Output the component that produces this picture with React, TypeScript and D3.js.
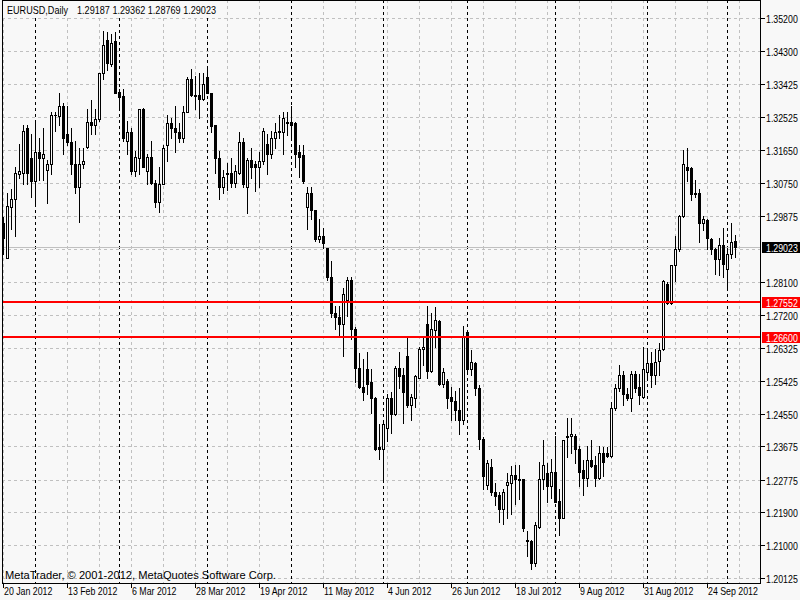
import React from 'react';
import * as d3 from 'd3';

// ---- Data (EURUSD daily, 20 Jan 2012 .. 3 Oct 2012) ----
const openPrices = [
  1.2967, 1.2875, 1.3010, 1.3034, 1.3101, 1.3104, 1.3225, 1.3142, 1.3080, 1.3158,
  1.3142, 1.3112, 1.3128, 1.3258, 1.3255, 1.3284, 1.3209, 1.3185, 1.3128, 1.3064,
  1.3128, 1.3174, 1.3241, 1.3231, 1.3247, 1.3371, 1.3462, 1.3395, 1.3457, 1.3322,
  1.3309, 1.3188, 1.3214, 1.3107, 1.3144, 1.3274, 1.3107, 1.3147, 1.3077, 1.3026,
  1.3074, 1.3179, 1.3236, 1.3223, 1.3212, 1.3196, 1.3268, 1.3357, 1.3314, 1.3314,
  1.3301, 1.3360, 1.3319, 1.3231, 1.3142, 1.3064, 1.3099, 1.3104, 1.3077, 1.3104,
  1.3185, 1.3064, 1.3139, 1.3126, 1.3118, 1.3134, 1.3182, 1.3155, 1.3196, 1.3217,
  1.3214, 1.3236, 1.3239, 1.3236, 1.3158, 1.3150, 1.3010, 1.3048, 1.3004, 1.2926,
  1.2934, 1.2900, 1.2822, 1.2725, 1.2714, 1.2695, 1.2762, 1.2816, 1.2682, 1.2579,
  1.2528, 1.2574, 1.2539, 1.2498, 1.2364, 1.2361, 1.2415, 1.2496, 1.2453, 1.2579,
  1.2558, 1.2611, 1.2477, 1.2498, 1.2552, 1.2628, 1.2695, 1.2571, 1.2679, 1.2703,
  1.2536, 1.2544, 1.2501, 1.2490, 1.2466, 1.2439, 1.2676, 1.2574, 1.2590, 1.2523,
  1.2388, 1.2264, 1.2310, 1.2245, 1.2235, 1.2197, 1.2264, 1.2267, 1.2291, 1.2280,
  1.2278, 1.2116, 1.2113, 1.2052, 1.2151, 1.2278, 1.2294, 1.2259, 1.2299, 1.2221,
  1.2175, 1.2391, 1.2396, 1.2396, 1.2361, 1.2302, 1.2283, 1.2329, 1.2318, 1.2283,
  1.2350, 1.2348, 1.2340, 1.2469, 1.2523, 1.2560, 1.2509, 1.2496, 1.2563, 1.2528,
  1.2501, 1.2566, 1.2590, 1.2560, 1.2598, 1.2628, 1.2805, 1.2754, 1.2854, 1.2897,
  1.2986, 1.3120, 1.3115, 1.3048, 1.3048, 1.2967, 1.2975, 1.2926, 1.2897, 1.2870,
  1.2910, 1.2843, 1.2886, 1.29187,
];
const highPrices = [
  1.2983, 1.3048, 1.3061, 1.3118, 1.3182, 1.3233, 1.3233, 1.3209, 1.3236, 1.3196,
  1.3223, 1.3139, 1.3266, 1.3268, 1.3319, 1.3290, 1.3282, 1.3223, 1.3190, 1.3171,
  1.3171, 1.3276, 1.3298, 1.3276, 1.3373, 1.3486, 1.3481, 1.3478, 1.3481, 1.3330,
  1.3330, 1.3244, 1.3225, 1.3163, 1.3276, 1.3279, 1.3155, 1.3190, 1.3083, 1.3118,
  1.3177, 1.3260, 1.3250, 1.3284, 1.3236, 1.3282, 1.3360, 1.3384, 1.3365, 1.3373,
  1.3373, 1.3384, 1.3319, 1.3231, 1.3163, 1.3110, 1.3131, 1.3142, 1.3123, 1.3212,
  1.3196, 1.3144, 1.3171, 1.3136, 1.3158, 1.3223, 1.3209, 1.3217, 1.3236, 1.3260,
  1.3266, 1.3266, 1.3284, 1.3239, 1.3179, 1.3177, 1.3064, 1.3064, 1.3004, 1.2978,
  1.2956, 1.2902, 1.2867, 1.2746, 1.2746, 1.2792, 1.2822, 1.2822, 1.2687, 1.2617,
  1.2603, 1.2622, 1.2574, 1.2501, 1.2426, 1.2431, 1.2509, 1.2512, 1.2582, 1.2622,
  1.2579, 1.2665, 1.2509, 1.2560, 1.2633, 1.2663, 1.2746, 1.2727, 1.2741, 1.2706,
  1.2579, 1.2547, 1.2528, 1.2515, 1.2523, 1.2690, 1.2679, 1.2625, 1.2593, 1.2533,
  1.2391, 1.2329, 1.2334, 1.2267, 1.2243, 1.2253, 1.2294, 1.2315, 1.2318, 1.2318,
  1.2280, 1.2140, 1.2116, 1.2162, 1.2326, 1.2385, 1.2321, 1.2332, 1.2396, 1.2253,
  1.2385, 1.2442, 1.2442, 1.2401, 1.2369, 1.2329, 1.2369, 1.2383, 1.2342, 1.2369,
  1.2366, 1.2366, 1.2485, 1.2536, 1.2587, 1.2571, 1.2525, 1.2571, 1.2571, 1.2563,
  1.2633, 1.2625, 1.2620, 1.2630, 1.2646, 1.2816, 1.2808, 1.2856, 1.2934, 1.2991,
  1.3166, 1.3169, 1.3118, 1.3083, 1.3061, 1.2988, 1.2978, 1.2929, 1.2900, 1.2929,
  1.2956, 1.2900, 1.2967, 1.29362,
];
const lowPrices = [
  1.2886, 1.2873, 1.2951, 1.2932, 1.3088, 1.3074, 1.3074, 1.3039, 1.3021, 1.3083,
  1.3083, 1.3023, 1.3101, 1.3217, 1.3231, 1.3155, 1.3179, 1.3101, 1.3048, 1.2970,
  1.3115, 1.3171, 1.3209, 1.3209, 1.3244, 1.3357, 1.3379, 1.3392, 1.3317, 1.3279,
  1.3190, 1.3155, 1.3099, 1.3096, 1.3101, 1.3118, 1.3074, 1.3074, 1.3010, 1.2999,
  1.3072, 1.3136, 1.3196, 1.3158, 1.3185, 1.3185, 1.3266, 1.3311, 1.3274, 1.3252,
  1.3298, 1.3317, 1.3212, 1.3104, 1.3034, 1.3048, 1.3056, 1.3066, 1.3064, 1.3099,
  1.3064, 1.2994, 1.3088, 1.3053, 1.3066, 1.3128, 1.3101, 1.3144, 1.3171, 1.3196,
  1.3155, 1.3204, 1.3201, 1.3120, 1.3093, 1.3077, 1.2953, 1.2980, 1.2921, 1.2918,
  1.2902, 1.2816, 1.2714, 1.2682, 1.2663, 1.2611, 1.2719, 1.2655, 1.2539, 1.2525,
  1.2493, 1.2509, 1.2458, 1.2358, 1.2334, 1.2280, 1.2380, 1.2404, 1.2450, 1.2525,
  1.2431, 1.2472, 1.2437, 1.2474, 1.2550, 1.2587, 1.2552, 1.2568, 1.2633, 1.2531,
  1.2528, 1.2469, 1.2439, 1.2439, 1.2401, 1.2428, 1.2571, 1.2560, 1.2506, 1.2361,
  1.2253, 1.2253, 1.2235, 1.2208, 1.2162, 1.2159, 1.2173, 1.2186, 1.2213, 1.2226,
  1.2138, 1.2073, 1.2038, 1.2046, 1.2148, 1.2253, 1.2218, 1.2229, 1.2216, 1.2127,
  1.2173, 1.2337, 1.2350, 1.2321, 1.2261, 1.2235, 1.2259, 1.2310, 1.2259, 1.2280,
  1.2286, 1.2337, 1.2337, 1.2466, 1.2517, 1.2477, 1.2493, 1.2461, 1.2512, 1.2482,
  1.2498, 1.2552, 1.2528, 1.2536, 1.2560, 1.2625, 1.2751, 1.2751, 1.2813, 1.2894,
  1.2983, 1.3080, 1.3029, 1.3037, 1.2916, 1.2948, 1.2897, 1.2886, 1.2830, 1.2827,
  1.2824, 1.2795, 1.2875, 1.28769,
];
const closePrices = [
  1.2929, 1.3013, 1.3034, 1.3104, 1.3107, 1.3217, 1.3104, 1.3080, 1.3158, 1.3142,
  1.3155, 1.3128, 1.3260, 1.3260, 1.3284, 1.3196, 1.3185, 1.3128, 1.3064, 1.3128,
  1.3136, 1.3241, 1.3231, 1.3247, 1.3371, 1.3446, 1.3398, 1.3454, 1.3319, 1.3306,
  1.3196, 1.3214, 1.3107, 1.3147, 1.3274, 1.3120, 1.3147, 1.3077, 1.3026, 1.3074,
  1.3171, 1.3236, 1.3223, 1.3212, 1.3196, 1.3268, 1.3357, 1.3314, 1.3311, 1.3301,
  1.3341, 1.3319, 1.3228, 1.3142, 1.3064, 1.3091, 1.3104, 1.3077, 1.3107, 1.3185,
  1.3072, 1.3139, 1.3120, 1.3118, 1.3136, 1.3217, 1.3155, 1.3196, 1.3214, 1.3212,
  1.3250, 1.3239, 1.3233, 1.3155, 1.3147, 1.3080, 1.3048, 1.3004, 1.2926, 1.2934,
  1.2913, 1.2822, 1.2725, 1.2714, 1.2695, 1.2776, 1.2816, 1.2682, 1.2579, 1.2528,
  1.2512, 1.2536, 1.2496, 1.2361, 1.2361, 1.2428, 1.2496, 1.2453, 1.2579, 1.2555,
  1.2512, 1.2477, 1.2501, 1.2555, 1.2630, 1.2633, 1.2571, 1.2682, 1.2706, 1.2536,
  1.2566, 1.2498, 1.2488, 1.2466, 1.2439, 1.2660, 1.2574, 1.2593, 1.2523, 1.2388,
  1.2286, 1.2321, 1.2243, 1.2232, 1.2197, 1.2245, 1.2270, 1.2291, 1.2280, 1.2275,
  1.2148, 1.2111, 1.2052, 1.2154, 1.2278, 1.2318, 1.2259, 1.2299, 1.2218, 1.2175,
  1.2383, 1.2396, 1.2399, 1.2361, 1.2299, 1.2283, 1.2329, 1.2315, 1.2283, 1.2350,
  1.2326, 1.2340, 1.2469, 1.2525, 1.2560, 1.2509, 1.2496, 1.2563, 1.2525, 1.2504,
  1.2574, 1.2590, 1.2560, 1.2595, 1.2625, 1.2813, 1.2754, 1.2854, 1.2897, 1.2988,
  1.3128, 1.3112, 1.3045, 1.3045, 1.2967, 1.2978, 1.2929, 1.2897, 1.2870, 1.2910,
  1.2859, 1.2886, 1.2918, 1.29023,
];

const priceTickLabels = [
  '1.35200', '1.34300', '1.33425', '1.32525', '1.31650', '1.30750', '1.29875', '1.28975',
  '1.28100', '1.27200', '1.26325', '1.25425', '1.24550', '1.23675', '1.22775', '1.21900',
  '1.21000', '1.20125',
];
const levelPrices = [1.27552, 1.266];
const levelLabels = ['1.27552', '1.26600'];
const bidPrice = 1.29023;
const bidLabel = '1.29023';
const headerSymbol = 'EURUSD,Daily';
const headerOHLC = '1.29187 1.29362 1.28769 1.29023';
const footerText = 'MetaTrader, \u00A9 2001-2012, MetaQuotes Software Corp.';
const firstDate = new Date(2012, 0, 20);
const dateLabelEvery = 16;
const gridEvery = 8;

const BG = '#f8f8f8';
const GRID = '#c0c0c0';
const FONT = "'Liberation Sans', Arial, sans-serif";

export default function App() {
  const n = closePrices.length;
  const plotLeft = 2;
  const plotRight = 760;
  const plotBottom = 583;

  const dates = d3
    .timeDay.range(firstDate, d3.timeDay.offset(firstDate, 400))
    .filter((d) => d.getDay() % 6 !== 0)
    .slice(0, n);
  const fmt = d3.timeFormat('%-d %b %Y');

  const x = d3.scaleLinear().domain([0, n - 1]).range([3, 3 + 4 * (n - 1)]);
  const y = d3.scaleLinear().domain([1.20125, 1.352]).range([578, 18]);
  const row = (v: number) => Math.round(y(v));

  const tickValues = priceTickLabels.map((s) => +s);
  const bidRow = row(bidPrice);

  const gridIdx = d3.range(0, n + 40, gridEvery).filter((i) => x(i) < plotRight);
  const sepIdx = d3.range(1, n).filter((i) => dates[i].getMonth() !== dates[i - 1].getMonth());
  const labelIdx = d3.range(0, n, dateLabelEvery);

  const labelText = (key: string, tx: number, ty: number, txt: string, fill = '#000') => (
    <text
      key={key}
      transform={`translate(${tx},${ty}) scale(0.8,1)`}
      fontFamily={FONT}
      fontSize={11}
      fill={fill}
    >
      {txt}
    </text>
  );

  return (
    <svg
      width={800}
      height={600}
      style={{ position: 'absolute', left: 0, top: 0, display: 'block' }}
    >
      <rect x={0} y={0} width={800} height={600} fill={BG} />

      {/* horizontal grid */}
      {tickValues.map((v, i) => (
        <line
          key={'hg' + i}
          x1={plotLeft}
          x2={plotRight}
          y1={row(v) + 0.5}
          y2={row(v) + 0.5}
          stroke={GRID}
          strokeDasharray="3,3"
        />
      ))}

      {/* vertical grid */}
      {gridIdx.map((i) => (
        <line
          key={'vg' + i}
          x1={x(i) + 0.5}
          x2={x(i) + 0.5}
          y1={0}
          y2={plotBottom}
          stroke={GRID}
          strokeDasharray="3,3"
        />
      ))}

      {/* period separators */}
      {sepIdx.map((i) => (
        <line
          key={'sep' + i}
          x1={x(i) + 0.5}
          x2={x(i) + 0.5}
          y1={0}
          y2={plotBottom}
          stroke="#000"
          strokeDasharray="3,3"
        />
      ))}

      {/* header background */}
      <rect x={3} y={0} width={216} height={15} fill={BG} />

      {/* bid line */}
      <line x1={plotLeft} x2={plotRight} y1={bidRow + 0.5} y2={bidRow + 0.5} stroke={GRID} />

      {/* candles */}
      {closePrices.map((c, i) => {
        const o = openPrices[i];
        const h = highPrices[i];
        const l = lowPrices[i];
        const cx = x(i);
        const rH = row(Math.max(h, o, c));
        const rL = row(Math.min(l, o, c));
        const rTop = row(Math.max(o, c));
        const rBot = row(Math.min(o, c));
        const bull = c >= o;
        return (
          <g key={'c' + i}>
            <rect x={cx} y={rH} width={1} height={rL - rH + 1} fill="#000" />
            {bull && rBot - rTop >= 2 ? (
              <rect
                x={cx - 0.5}
                y={rTop + 0.5}
                width={2}
                height={rBot - rTop}
                fill={BG}
                stroke="#000"
              />
            ) : (
              <rect x={cx - 1} y={rTop} width={3} height={rBot - rTop + 1} fill="#000" />
            )}
          </g>
        );
      })}

      {/* horizontal level lines */}
      {levelPrices.map((v, i) => (
        <line
          key={'lv' + i}
          x1={plotLeft}
          x2={plotRight}
          y1={row(v)}
          y2={row(v)}
          stroke="#ff0000"
          strokeWidth={2}
        />
      ))}

      {/* frame / axes */}
      <line x1={plotLeft} x2={plotRight + 1} y1={0.5} y2={0.5} stroke="#000" />
      <line x1={plotLeft + 0.5} x2={plotLeft + 0.5} y1={0} y2={plotBottom + 1} stroke="#000" />
      <line x1={plotRight + 0.5} x2={plotRight + 0.5} y1={0} y2={plotBottom + 1} stroke="#000" />
      <line x1={plotLeft} x2={plotRight + 1} y1={plotBottom + 0.5} y2={plotBottom + 0.5} stroke="#000" />

      {/* price axis ticks and labels */}
      {tickValues.map((v, i) => {
        const r = row(v);
        if (Math.abs(r - bidRow) < 8) return null;
        return (
          <g key={'pt' + i}>
            <line x1={761} x2={765} y1={r + 0.5} y2={r + 0.5} stroke="#000" />
            {labelText('ptl' + i, 766, r + 4.5, priceTickLabels[i])}
          </g>
        );
      })}

      {/* level labels */}
      {levelPrices.map((v, i) => {
        const r = row(v);
        return (
          <g key={'ll' + i}>
            <rect x={762} y={r - 5} width={38} height={11} fill="#ff0000" />
            {labelText('llt' + i, 766, r + 4.5, levelLabels[i], '#fff')}
          </g>
        );
      })}

      {/* bid label */}
      <rect x={762} y={bidRow - 5} width={38} height={11} fill="#000" />
      {labelText('bidl', 766, bidRow + 4.5, bidLabel, '#fff')}

      {/* time axis ticks and labels */}
      {labelIdx.map((i) => (
        <g key={'dt' + i}>
          <line
            x1={x(i) + 0.5}
            x2={x(i) + 0.5}
            y1={plotBottom + 1}
            y2={plotBottom + 5}
            stroke="#000"
          />
          {labelText('dtl' + i, x(i) + 1, 595, fmt(dates[i]))}
        </g>
      ))}

      {/* header */}
      <text
        x={7}
        y={14}
        fontFamily={FONT}
        fontSize={11}
        textLength={61}
        lengthAdjust="spacingAndGlyphs"
      >
        {headerSymbol}
      </text>
      <text
        x={77}
        y={14}
        fontFamily={FONT}
        fontSize={11}
        textLength={139}
        lengthAdjust="spacingAndGlyphs"
      >
        {headerOHLC}
      </text>

      {/* footer */}
      <text
        x={5}
        y={579}
        fontFamily={FONT}
        fontSize={11}
        textLength={271}
        lengthAdjust="spacingAndGlyphs"
      >
        {footerText}
      </text>
    </svg>
  );
}
